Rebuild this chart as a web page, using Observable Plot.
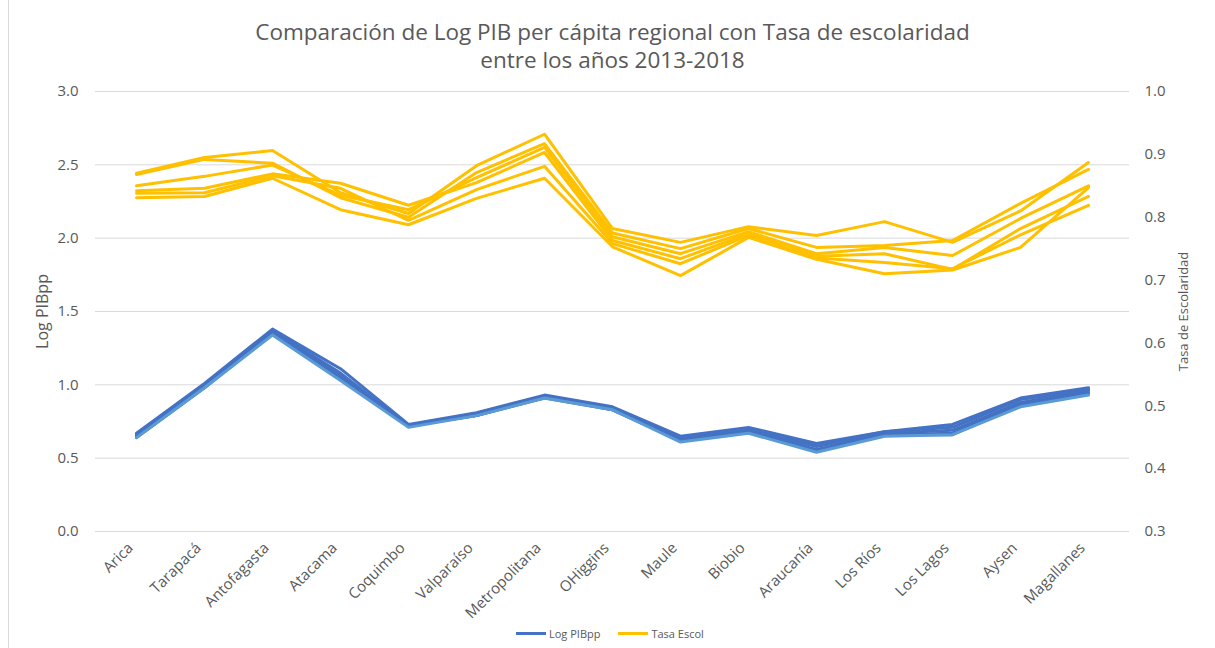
<!DOCTYPE html>
<html>
<head>
<meta charset="utf-8">
<script src="https://cdn.jsdelivr.net/npm/d3@7"></script>
<script src="https://cdn.jsdelivr.net/npm/@observablehq/plot@0.6"></script>
<style>
  html, body { margin: 0; padding: 0; background: #fff; }
  #wrap { position: relative; width: 1215px; height: 648px; overflow: hidden; font-family: "Open Sans", sans-serif; color: #595959; }
  #border { position: absolute; left: 8px; top: 0; width: 1px; height: 648px; background: #d9d9d9; }
  #title { position: absolute; top: 18px; left: 0; width: 1225px; text-align: center; font-size: 22.5px; line-height: 28px; color: #595959; }
  #chart { position: absolute; left: 0; top: 0; }
  #legend { position: absolute; top: 626px; left: 516px; display: flex; align-items: center; font-size: 11px; color: #595959; }
  .sw { display: inline-block; width: 30px; height: 3px; margin-right: 3px; }
  .item { display: flex; align-items: center; margin-right: 18px; }
</style>
</head>
<body>
<div id="wrap">
  <div id="border"></div>
  <div id="title">Comparación de Log PIB per cápita regional con Tasa de escolaridad<br>entre los años 2013-2018</div>
  <div id="chart"></div>
  <div id="legend">
    <div class="item"><span class="sw" style="background:#4472C4"></span>Log PIBpp</div>
    <div class="item"><span class="sw" style="background:#FFC000"></span>Tasa Escol</div>
  </div>
</div>
<script>
const regions = ["Arica", "Tarapacá", "Antofagasta", "Atacama", "Coquimbo", "Valparaíso", "Metropolitana", "OHiggins", "Maule", "Biobio", "Araucanía", "Los Ríos", "Los Lagos", "Aysen", "Magallanes"];
const years = [2013, 2014, 2015, 2016, 2017, 2018];

// Log PIB per cápita, one array per year (order of regions)
const logPIB_2013 = [0.67, 1.01, 1.38, 1.11, 0.73, 0.81, 0.93, 0.85, 0.65, 0.71, 0.60, 0.68, 0.73, 0.91, 0.98];
const logPIB_2014 = [0.66, 1.00, 1.37, 1.08, 0.72, 0.80, 0.92, 0.84, 0.64, 0.70, 0.59, 0.68, 0.71, 0.90, 0.97];
const logPIB_2015 = [0.65, 0.99, 1.36, 1.06, 0.72, 0.80, 0.92, 0.84, 0.63, 0.69, 0.58, 0.67, 0.69, 0.88, 0.96];
const logPIB_2016 = [0.65, 0.99, 1.35, 1.05, 0.72, 0.79, 0.92, 0.83, 0.62, 0.68, 0.56, 0.66, 0.67, 0.87, 0.95];
const logPIB_2017 = [0.64, 0.98, 1.35, 1.04, 0.72, 0.79, 0.91, 0.83, 0.62, 0.68, 0.55, 0.66, 0.66, 0.86, 0.94];
const logPIB_2018 = [0.64, 0.98, 1.34, 1.03, 0.71, 0.79, 0.91, 0.83, 0.61, 0.67, 0.54, 0.65, 0.66, 0.85, 0.93];

// Tasa de escolaridad, one array per year (order of regions)
const tasa_2013 = [0.870, 0.895, 0.906, 0.839, 0.806, 0.882, 0.932, 0.782, 0.760, 0.785, 0.771, 0.793, 0.760, 0.810, 0.887];
const tasa_2014 = [0.868, 0.892, 0.886, 0.831, 0.800, 0.871, 0.917, 0.775, 0.750, 0.782, 0.752, 0.755, 0.763, 0.822, 0.876];
const tasa_2015 = [0.850, 0.865, 0.883, 0.835, 0.812, 0.863, 0.911, 0.769, 0.742, 0.777, 0.742, 0.752, 0.739, 0.798, 0.850];
const tasa_2016 = [0.842, 0.846, 0.869, 0.854, 0.819, 0.855, 0.903, 0.763, 0.734, 0.774, 0.738, 0.742, 0.717, 0.782, 0.833];
const tasa_2017 = [0.838, 0.839, 0.866, 0.846, 0.795, 0.844, 0.881, 0.758, 0.726, 0.771, 0.735, 0.728, 0.718, 0.772, 0.819];
const tasa_2018 = [0.831, 0.833, 0.862, 0.812, 0.788, 0.830, 0.862, 0.753, 0.707, 0.768, 0.733, 0.710, 0.716, 0.752, 0.847];

const leftTicks = [0, 0.5, 1.0, 1.5, 2.0, 2.5, 3.0];
const rightTicks = [0.3, 0.4, 0.5, 0.6, 0.7, 0.8, 0.9, 1.0];

const pibSeries = [logPIB_2013, logPIB_2014, logPIB_2015, logPIB_2016, logPIB_2017, logPIB_2018];
const tasaSeries = [tasa_2013, tasa_2014, tasa_2015, tasa_2016, tasa_2017, tasa_2018];
const pibColors = ["#4472C4", "#4472C4", "#4472C4", "#4472C4", "#4472C4", "#5B9BD5"];

// secondary axis mapping: [0.3, 1.0] -> [0, 3]
const toLeft = v => (v - 0.3) * 3 / 0.7;
const fromLeft = v => v * 0.7 / 3 + 0.3;

const pibData = [];
pibSeries.forEach((arr, i) => arr.forEach((v, j) => pibData.push({year: years[i], region: regions[j], value: v, color: pibColors[i]})));
const tasaData = [];
tasaSeries.forEach((arr, i) => arr.forEach((v, j) => tasaData.push({year: years[i], region: regions[j], value: v})));

const chart = Plot.plot({
  width: 1215,
  height: 648,
  marginTop: 91,
  marginBottom: 117,
  marginLeft: 95,
  marginRight: 86,
  style: {fontFamily: "Open Sans, sans-serif", fontSize: "14px", color: "#595959", background: "transparent"},
  x: {type: "point", domain: regions, padding: 0.5},
  y: {domain: [0, 3]},
  marks: [
    Plot.gridY(leftTicks, {stroke: "#d9d9d9", strokeOpacity: 1, strokeWidth: 1}),
    Plot.axisY(leftTicks, {anchor: "left", tickSize: 0, tickPadding: 17, tickFormat: d => d.toFixed(1), fontSize: 15, label: null}),
    Plot.text(["Log PIBpp"], {frameAnchor: "left", dx: -53, rotate: -90, textAnchor: "middle", fontSize: 16, fill: "#595959"}),
    Plot.axisY(rightTicks.map(toLeft), {anchor: "right", tickSize: 0, tickPadding: 15, tickFormat: d => fromLeft(d).toFixed(1), fontSize: 15,
      label: null}),
    Plot.text(["Tasa de Escolaridad"], {frameAnchor: "right", dx: 54, rotate: -90, textAnchor: "middle", fontSize: 13, fill: "#595959"}),
    Plot.axisX({tickSize: 0, tickRotate: -45, tickPadding: 14, dx: -6, fontSize: 15, label: null}),
    Plot.line(tasaData, {x: "region", y: d => toLeft(d.value), z: "year", stroke: "#FFC000", strokeWidth: 3, strokeLinejoin: "round"}),
    Plot.line(pibData, {x: "region", y: "value", z: "year", stroke: "color", strokeWidth: 3, strokeLinejoin: "round"})
  ]
});
document.getElementById("chart").appendChild(chart);
</script>
</body>
</html>
